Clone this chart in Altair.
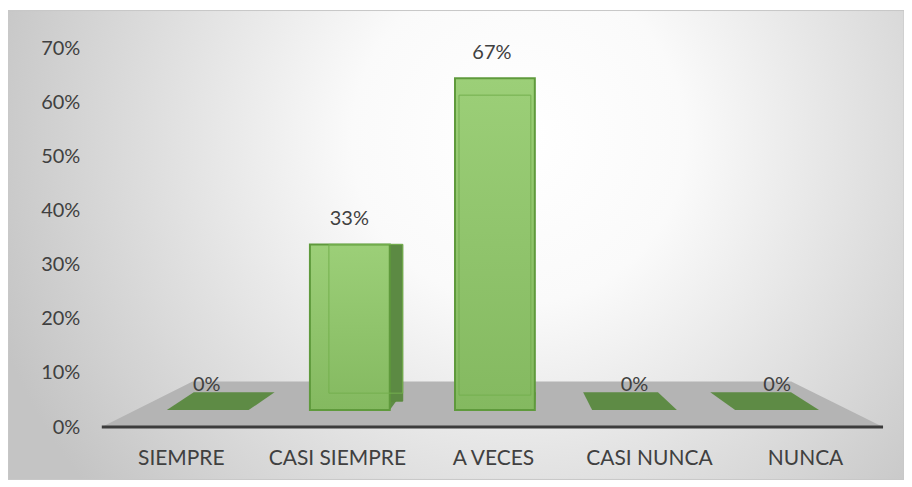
import altair as alt
import pandas as pd

categories = ["SIEMPRE", "CASI SIEMPRE", "A VECES", "CASI NUNCA", "NUNCA"]
values = [0.0, 0.333, 0.667, 0.0, 0.0]
y_ticks = [0.0, 0.1, 0.2, 0.3, 0.4, 0.5, 0.6, 0.7]

# perspective floor outline (decoration)
floor_x = [94, 185, 785, 877]
floor_top = [0.0, 0.084, 0.084, 0.0]

W, H = 898, 470
FONT = "Lato"
TXT = "#404040"

df = pd.DataFrame({"cat": categories, "value": values})
floor_df = pd.DataFrame({"fx": floor_x, "top": floor_top, "base": [0.0] * len(floor_x)})
one = pd.DataFrame({"a": [0]})

axis_scale = alt.Scale(domain=[-0.0969, 0.770], nice=False, zero=False)
bar_scale = alt.Scale(domain=[-0.1394, 0.803], nice=False, zero=False)
x_scale = alt.Scale(domain=categories, range=[95, 877], paddingInner=0, paddingOuter=0)

# slab shapes (top face of the 3D base) per category, unit = 55px
slab_paths = [
    "M -0.255 0 L 1.236 0 L 1.709 -0.327 L 0.236 -0.327 Z",
    "M -0.491 0 L 0.964 0 L 1.2 -0.327 L -0.255 -0.327 Z",
    "M -0.691 0 L 0.764 0 L 0.782 -0.327 L -0.673 -0.327 Z",
    "M -1.036 0 L 0.509 0 L 0.164 -0.327 L -1.2 -0.327 Z",
    "M -1.273 0 L 0.255 0 L -0.255 -0.327 L -1.727 -0.327 Z",
]

bg = alt.Chart(one).mark_rect(
    fill=alt.Gradient(
        gradient="radial",
        stops=[
            alt.GradientStop(color="#ffffff", offset=0),
            alt.GradientStop(color="#fafafa", offset=0.3),
            alt.GradientStop(color="#c4c4c4", offset=1),
        ],
        x1=0.57, y1=0.38, x2=0.57, y2=0.38, r1=0, r2=0.62,
    ),
    stroke="#c8c8c8",
    strokeWidth=1,
).encode(x=alt.value(0), x2=alt.value(W), y=alt.value(0), y2=alt.value(H))

floor = alt.Chart(floor_df).mark_area(color="#b4b4b4").encode(
    x=alt.X("fx:Q", scale=alt.Scale(domain=[0, W], nice=False, zero=False), axis=None),
    y=alt.Y(
        "top:Q",
        scale=axis_scale,
        axis=alt.Axis(
            values=y_ticks, format=".0%", offset=-72, domain=False, ticks=False,
            tickSize=0, grid=False, labelPadding=0, labelFontSize=20,
            labelColor=TXT, labelFont=FONT, title=None, zindex=2,
        ),
    ),
    y2="base:Q",
)

rule = alt.Chart(one).mark_rule(color="#3c3c3c", strokeWidth=3).encode(
    y=alt.Y(datum=0, scale=axis_scale, axis=None),
    x=alt.value(94), x2=alt.value(877),
)

xenc = alt.X(
    "cat:N", scale=x_scale, sort=categories,
    axis=alt.Axis(
        orient="bottom", offset=-32, domain=False, ticks=False, tickSize=0,
        labelPadding=0, labelFontSize=21, labelColor=TXT, labelFont=FONT,
        labelAngle=0, title=None, grid=False, zindex=2,
    ),
)
xnoax = alt.X("cat:N", scale=x_scale, sort=categories, axis=None)

slabs = alt.Chart(df).mark_point(
    filled=True, size=12100, fill="#5e8b45", opacity=1, strokeWidth=0
).encode(
    x=xenc,
    y=alt.Y(datum=0, scale=bar_scale, axis=None),
    shape=alt.Shape("cat:N", scale=alt.Scale(domain=categories, range=slab_paths), legend=None),
)

side = alt.Chart(df).transform_filter("datum.cat == 'CASI SIEMPRE'").mark_bar(
    width=13, xOffset=59.5, y2Offset=-9, fill="#5c8a43", stroke="#5a8a3c", strokeWidth=1
).encode(
    x=xnoax,
    y=alt.Y("value:Q", scale=bar_scale, axis=None),
    y2=alt.Y2(datum=0),
)

front = alt.Chart(df).transform_filter("datum.value > 0").mark_bar(
    width=80,
    xOffset={"expr": "datum.cat == 'CASI SIEMPRE' ? 13 : 2"},
    fill=alt.Gradient(
        gradient="linear",
        stops=[
            alt.GradientStop(color="#9ccf78", offset=0),
            alt.GradientStop(color="#84b960", offset=1),
        ],
        x1=0, x2=0, y1=0, y2=1,
    ),
    stroke="#5f9a3c",
    strokeWidth=2,
).encode(
    x=xnoax,
    y=alt.Y("value:Q", scale=bar_scale, axis=None),
    y2=alt.Y2(datum=0),
)

back = alt.Chart(df).transform_filter("datum.value > 0").mark_bar(
    width={"expr": "datum.cat == 'CASI SIEMPRE' ? 74 : 72"},
    xOffset={"expr": "datum.cat == 'CASI SIEMPRE' ? 29 : 2"},
    yOffset={"expr": "datum.cat == 'CASI SIEMPRE' ? 0 : 17"},
    y2Offset={"expr": "datum.cat == 'CASI SIEMPRE' ? -17 : -15"},
    fill=None,
    fillOpacity=0,
    stroke="#74b04e",
    strokeWidth=1,
).encode(
    x=xnoax,
    y=alt.Y("value:Q", scale=bar_scale, axis=None),
    y2=alt.Y2(datum=0),
)

labels = alt.Chart(df).mark_text(
    dy=-25, fontSize=20, font=FONT, color=TXT, baseline="middle", align="center",
    xOffset={"expr": "26 - 13.5 * indexof(['SIEMPRE','CASI SIEMPRE','A VECES','CASI NUNCA','NUNCA'], datum.cat)"},
).encode(
    x=xnoax,
    y=alt.Y("value:Q", scale=bar_scale, axis=None),
    text=alt.Text("value:Q", format=".0%"),
)

chart = alt.layer(bg, floor, rule, slabs, side, front, back, labels).resolve_scale(
    x="independent", y="independent", shape="independent"
).properties(
    width=W, height=H,
    padding={"left": 0, "top": 2, "right": 0, "bottom": 0},
    autosize=alt.AutoSizeParams(type="none"),
).configure_view(stroke=None).configure(background="#ffffff")

chart.save("out.html", embed_options={"renderer": "svg", "actions": False})
